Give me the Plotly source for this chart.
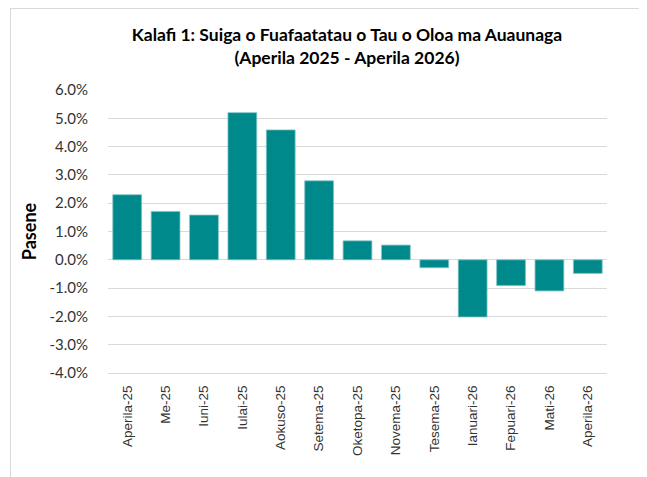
import plotly.graph_objects as go

categories = ["Aperila-25", "Me-25", "Iuni-25", "Iulai-25", "Aokuso-25", "Setema-25",
              "Oketopa-25", "Novema-25", "Tesema-25", "Ianuari-26", "Fepuari-26",
              "Mati-26", "Aperila-26"]
values = [2.30, 1.71, 1.58, 5.20, 4.59, 2.79, 0.67, 0.52, -0.28, -2.02, -0.91, -1.10, -0.48]
y_ticks = [-4, -3, -2, -1, 0, 1, 2, 3, 4, 5, 6]
y_tick_labels = [f"{v:.1f}%" for v in y_ticks]

W, H = 647, 477
ML, MR, MT, MB = 100, 48, 82, 112
PW, PH = W - ML - MR, H - MT - MB

fig = go.Figure(go.Bar(
    x=categories, y=values,
    marker=dict(color="#00898A", line=dict(color="#7FC4C4", width=0.8)),
))

fig.update_layout(
    width=W, height=H,
    margin=dict(l=ML, r=MR, t=MT, b=MB, autoexpand=False),
    paper_bgcolor="white", plot_bgcolor="white",
    bargap=0.25,
    showlegend=False,
    title=dict(
        text="Kalafi 1: Suiga o Fuafaatatau o Tau o Oloa ma Auaunaga<br>(Aperila 2025 - Aperila 2026)",
        x=339/W, xref="container", xanchor="center",
        y=1 - 33/H, yref="container", yanchor="top",
        font=dict(family="Lato", size=17.5, color="#000000", weight="bold"),
    ),
    font=dict(family="Lato", color="#333333"),
)

fig.update_yaxes(
    range=[-4, 6], automargin=False,
    tickvals=y_ticks, ticktext=y_tick_labels,
    tickfont=dict(family="Lato", size=15, color="#333333"),
    ticklabelstandoff=19,
    showgrid=True, gridcolor="#D9D9D9", gridwidth=1,
    zeroline=True, zerolinecolor="#D9D9D9", zerolinewidth=1,
    showline=False, ticks="",
    title=dict(text="Pasene", font=dict(family="Lato", size=18, color="#000000", weight="bold"),
               standoff=8),
)
fig.update_xaxes(
    automargin=False,
    tickangle=-90,
    tickfont=dict(family="Liberation Sans", size=13.5, color="#333333"),
    ticklabelstandoff=6,
    showline=True, linecolor="#D9D9D9", linewidth=1,
    showgrid=False, ticks="",
)

# chart-area border (cropped on right and bottom in the reference)
def px_x(x):
    return (x - ML) / PW

def px_y(y):
    return (H - MB - y) / PH

fig.add_shape(type="line", xref="paper", yref="paper",
              x0=px_x(2), x1=px_x(W + 20), y0=px_y(0.5), y1=px_y(0.5),
              line=dict(color="#D9D9D9", width=1))
fig.add_shape(type="line", xref="paper", yref="paper",
              x0=px_x(2.5), x1=px_x(2.5), y0=px_y(0), y1=px_y(H + 20),
              line=dict(color="#D9D9D9", width=1))

fig.write_html("out.html")
